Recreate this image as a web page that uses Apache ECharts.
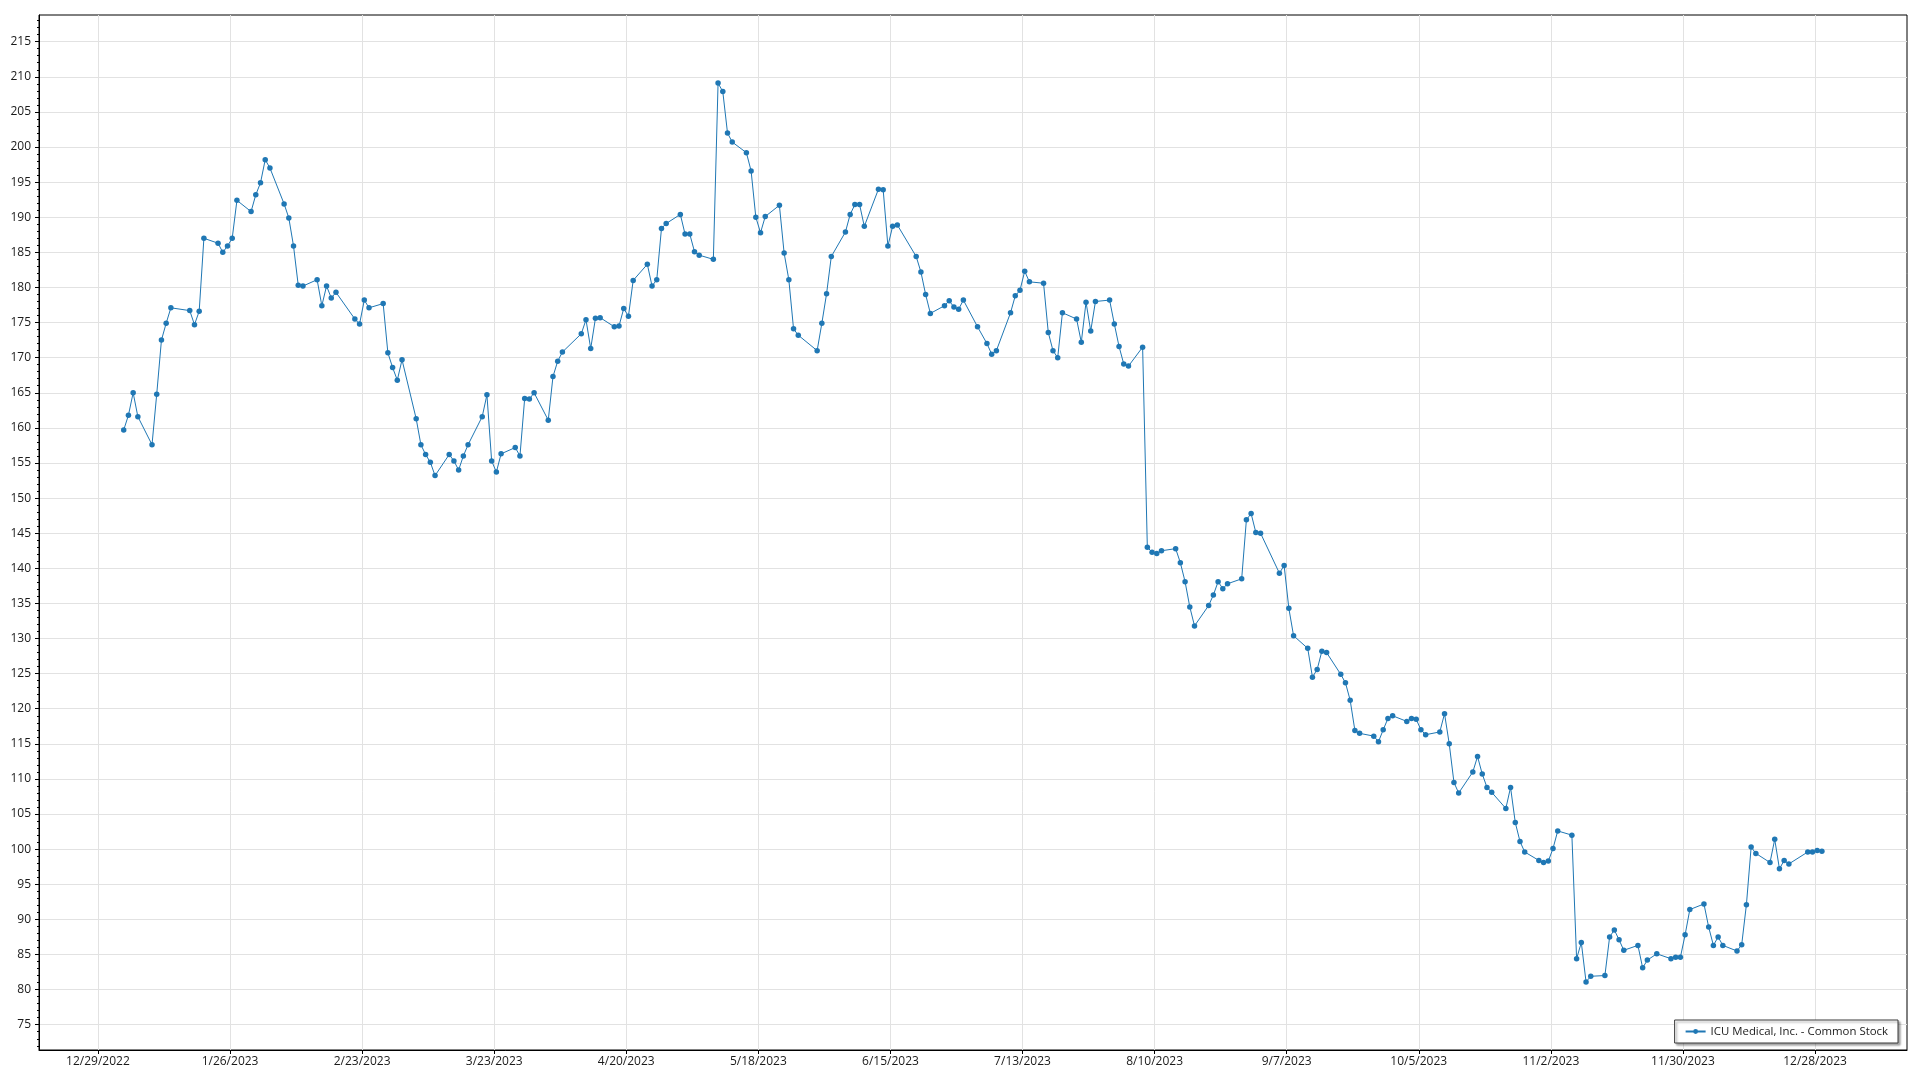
<!DOCTYPE html>
<html>
<head>
<meta charset="utf-8">
<title>ICU Medical, Inc. - Common Stock</title>
<script src="https://cdn.jsdelivr.net/npm/echarts@6/dist/echarts.min.js"></script>
<style>
  html, body { margin: 0; padding: 0; background: #ffffff; }
  #chart { width: 1920px; height: 1080px; }
</style>
</head>
<body>
<div id="chart"></div>
<script>
// ---- Data ----
const seriesName = 'ICU Medical, Inc. - Common Stock';

const tradeDates = [
  '2023-01-03','2023-01-04','2023-01-05','2023-01-06','2023-01-09','2023-01-10','2023-01-11','2023-01-12','2023-01-13','2023-01-17','2023-01-18','2023-01-19','2023-01-20','2023-01-23','2023-01-24','2023-01-25','2023-01-26','2023-01-27','2023-01-30','2023-01-31',
  '2023-02-01','2023-02-02','2023-02-03','2023-02-06','2023-02-07','2023-02-08','2023-02-09','2023-02-10','2023-02-13','2023-02-14','2023-02-15','2023-02-16','2023-02-17','2023-02-21','2023-02-22','2023-02-23','2023-02-24','2023-02-27','2023-02-28',
  '2023-03-01','2023-03-02','2023-03-03','2023-03-06','2023-03-07','2023-03-08','2023-03-09','2023-03-10','2023-03-13','2023-03-14','2023-03-15','2023-03-16','2023-03-17','2023-03-20','2023-03-21','2023-03-22','2023-03-23','2023-03-24','2023-03-27','2023-03-28','2023-03-29','2023-03-30','2023-03-31',
  '2023-04-03','2023-04-04','2023-04-05','2023-04-06','2023-04-10','2023-04-11','2023-04-12','2023-04-13','2023-04-14','2023-04-17','2023-04-18','2023-04-19','2023-04-20','2023-04-21','2023-04-24','2023-04-25','2023-04-26','2023-04-27','2023-04-28',
  '2023-05-01','2023-05-02','2023-05-03','2023-05-04','2023-05-05','2023-05-08','2023-05-09','2023-05-10','2023-05-11','2023-05-12','2023-05-15','2023-05-16','2023-05-17','2023-05-18','2023-05-19','2023-05-22','2023-05-23','2023-05-24','2023-05-25','2023-05-26','2023-05-30','2023-05-31',
  '2023-06-01','2023-06-02','2023-06-05','2023-06-06','2023-06-07','2023-06-08','2023-06-09','2023-06-12','2023-06-13','2023-06-14','2023-06-15','2023-06-16','2023-06-20','2023-06-21','2023-06-22','2023-06-23','2023-06-26','2023-06-27','2023-06-28','2023-06-29','2023-06-30',
  '2023-07-03','2023-07-05','2023-07-06','2023-07-07','2023-07-10','2023-07-11','2023-07-12','2023-07-13','2023-07-14','2023-07-17','2023-07-18','2023-07-19','2023-07-20','2023-07-21','2023-07-24','2023-07-25','2023-07-26','2023-07-27','2023-07-28','2023-07-31',
  '2023-08-01','2023-08-02','2023-08-03','2023-08-04','2023-08-07','2023-08-08','2023-08-09','2023-08-10','2023-08-11','2023-08-14','2023-08-15','2023-08-16','2023-08-17','2023-08-18','2023-08-21','2023-08-22','2023-08-23','2023-08-24','2023-08-25','2023-08-28','2023-08-29','2023-08-30','2023-08-31',
  '2023-09-01','2023-09-05','2023-09-06','2023-09-07','2023-09-08','2023-09-11','2023-09-12','2023-09-13','2023-09-14','2023-09-15','2023-09-18','2023-09-19','2023-09-20','2023-09-21','2023-09-22','2023-09-25','2023-09-26','2023-09-27','2023-09-28','2023-09-29',
  '2023-10-02','2023-10-03','2023-10-04','2023-10-05','2023-10-06','2023-10-09','2023-10-10','2023-10-11','2023-10-12','2023-10-13','2023-10-16','2023-10-17','2023-10-18','2023-10-19','2023-10-20','2023-10-23','2023-10-24','2023-10-25','2023-10-26','2023-10-27','2023-10-30','2023-10-31',
  '2023-11-01','2023-11-02','2023-11-03','2023-11-06','2023-11-07','2023-11-08','2023-11-09','2023-11-10','2023-11-13','2023-11-14','2023-11-15','2023-11-16','2023-11-17','2023-11-20','2023-11-21','2023-11-22','2023-11-24','2023-11-27','2023-11-28','2023-11-29','2023-11-30',
  '2023-12-01','2023-12-04','2023-12-05','2023-12-06','2023-12-07','2023-12-08','2023-12-11','2023-12-12','2023-12-13','2023-12-14','2023-12-15','2023-12-18','2023-12-19','2023-12-20','2023-12-21','2023-12-22','2023-12-26','2023-12-27','2023-12-28','2023-12-29'
];

const closePrices = [
  159.7,161.8,165.0,161.6,157.6,164.8,172.5,174.9,177.1,176.7,174.7,176.6,187.0,186.3,185.0,185.9,187.0,192.4,190.8,193.2,
  194.9,198.2,197.0,191.9,189.9,185.9,180.3,180.2,181.1,177.4,180.2,178.5,179.3,175.5,174.8,178.2,177.1,177.7,170.7,
  168.6,166.8,169.7,161.3,157.6,156.2,155.1,153.2,156.2,155.3,154.0,156.0,157.6,161.6,164.7,155.3,153.7,156.3,157.2,156.0,164.2,164.1,165.0,
  161.1,167.3,169.5,170.8,173.4,175.4,171.3,175.6,175.7,174.4,174.5,177.0,175.9,181.0,183.3,180.2,181.1,188.4,189.1,
  190.4,187.6,187.6,185.1,184.6,184.0,209.1,207.9,202.0,200.7,199.2,196.6,190.0,187.8,190.1,191.7,184.9,181.1,174.1,173.2,171.0,174.9,
  179.1,184.4,187.9,190.4,191.8,191.8,188.7,194.0,193.9,185.9,188.7,188.9,184.4,182.2,179.0,176.3,177.4,178.1,177.2,176.9,178.2,
  174.4,172.0,170.5,171.0,176.4,178.8,179.6,182.3,180.8,180.6,173.6,171.0,170.0,176.4,175.5,172.2,177.9,173.8,178.0,178.2,
  174.8,171.6,169.1,168.8,171.5,143.0,142.3,142.1,142.5,142.8,140.8,138.1,134.5,131.8,134.7,136.2,138.1,137.1,137.8,138.5,146.9,147.8,145.1,
  145.0,139.3,140.4,134.3,130.4,128.6,124.5,125.6,128.2,128.0,124.9,123.7,121.2,116.9,116.5,116.1,115.3,117.0,118.6,119.0,
  118.2,118.6,118.5,117.0,116.3,116.7,119.3,115.0,109.5,108.0,111.0,113.2,110.7,108.8,108.1,105.8,108.8,103.8,101.1,99.6,98.4,98.1,
  98.3,100.1,102.6,102.0,84.4,86.7,81.1,81.9,82.0,87.5,88.5,87.1,85.6,86.3,83.1,84.2,85.1,84.4,84.6,84.6,87.8,
  91.4,92.2,88.9,86.3,87.5,86.3,85.5,86.4,92.1,100.3,99.4,98.1,101.4,97.2,98.4,97.9,99.6,99.6,99.8,99.7
];

const xTickDates = ['2022-12-29','2023-01-26','2023-02-23','2023-03-23','2023-04-20','2023-05-18','2023-06-15','2023-07-13','2023-08-10','2023-09-07','2023-10-05','2023-11-02','2023-11-30','2023-12-28'];
const yTickValues = [75,80,85,90,95,100,105,110,115,120,125,130,135,140,145,150,155,160,165,170,175,180,185,190,195,200,205,210,215];

// ---- helpers ----
function utc(s, hour) {
  const p = s.split('-').map(Number);
  return Date.UTC(p[0], p[1] - 1, p[2], hour || 0);
}
function fmtDate(v) {
  const d = new Date(v);
  return (d.getUTCMonth() + 1) + '/' + d.getUTCDate() + '/' + d.getUTCFullYear();
}

const seriesData = tradeDates.map((d, i) => [utc(d, 11), closePrices[i]]);
const xTicks = xTickDates.map(d => utc(d, 0));
const X_MIN = Date.UTC(2022, 11, 16, 12);
const X_MAX = Date.UTC(2024, 0, 16, 12);
const Y_MIN = 71.4, Y_MAX = 218.8;
const yMinorTicks = [];
for (let v = Math.ceil(Y_MIN); v <= Math.floor(Y_MAX); v++) { if (v % 5 !== 0) yMinorTicks.push(v); }

const FONT = '"Open Sans", "Noto Sans", sans-serif';
const TEXT_COLOR = '#1a1a1a';
const GRID_COLOR = '#e2e2e2';

const chart = echarts.init(document.getElementById('chart'), null, { renderer: 'canvas' });
chart.setOption({
  animation: false,
  backgroundColor: '#ffffff',
  textStyle: { fontFamily: FONT },
  grid: {
    left: 39, right: 13, top: 15, bottom: 30,
    show: true, borderColor: '#000000', borderWidth: 1, backgroundColor: 'transparent'
  },
  legend: {
    show: true,
    data: [seriesName],
    right: 22, bottom: 37,
    orient: 'horizontal',
    padding: [6, 10, 6, 10],
    itemWidth: 20, itemHeight: 6,
    backgroundColor: '#ffffff',
    borderColor: '#3a3a3a', borderWidth: 1, borderRadius: 0,
    shadowColor: 'rgba(0,0,0,0.35)', shadowBlur: 2, shadowOffsetX: 2, shadowOffsetY: 2,
    textStyle: { fontFamily: FONT, fontSize: 11.4, color: TEXT_COLOR }
  },
  xAxis: {
    type: 'value',
    min: X_MIN, max: X_MAX,
    axisLine: { show: true, lineStyle: { color: '#000000', width: 1 } },
    axisTick: { show: true, length: 4, inside: false, customValues: xTicks, lineStyle: { color: '#000000' } },
    axisLabel: {
      show: true, customValues: xTicks, margin: 6,
      fontFamily: FONT, fontSize: 12, color: TEXT_COLOR,
      formatter: v => fmtDate(v)
    },
    splitLine: { show: true, lineStyle: { color: GRID_COLOR, width: 1 } }
  },
  yAxis: [
    {
      type: 'value',
      min: Y_MIN, max: Y_MAX,
      position: 'left',
      axisLine: { show: true, lineStyle: { color: '#000000', width: 1 } },
      axisTick: { show: true, length: 4, customValues: yTickValues, lineStyle: { color: '#000000' } },
      axisLabel: {
        show: true, customValues: yTickValues, margin: 8,
        fontFamily: FONT, fontSize: 12, color: TEXT_COLOR
      },
      splitLine: { show: true, lineStyle: { color: GRID_COLOR, width: 1 } }
    },
    {
      type: 'value',
      min: Y_MIN, max: Y_MAX,
      position: 'left',
      axisLine: { show: false },
      axisTick: { show: true, length: 2, customValues: yMinorTicks, lineStyle: { color: '#000000' } },
      axisLabel: { show: false },
      splitLine: { show: false }
    }
  ],
  series: [{
    name: seriesName,
    type: 'line',
    xAxisIndex: 0,
    yAxisIndex: 0,
    data: seriesData,
    symbol: 'circle',
    symbolSize: 5.5,
    showSymbol: true,
    showAllSymbol: true,
    lineStyle: { color: '#1f77b4', width: 1 },
    itemStyle: { color: '#1f77b4' }
  }]
});
</script>
</body>
</html>
